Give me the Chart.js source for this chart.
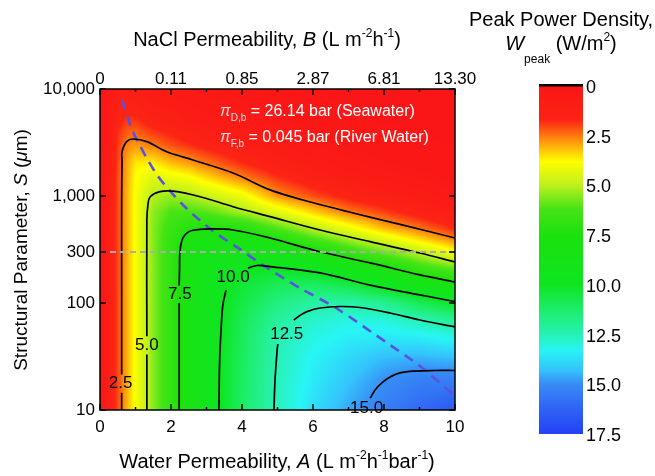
<!DOCTYPE html>
<html><head><meta charset="utf-8">
<script src="https://cdn.jsdelivr.net/npm/chart.js@4.4.1/dist/chart.umd.min.js"></script>
<style>html,body{margin:0;padding:0;background:#fff;}#wrap{width:655px;height:476px;}</style>
</head><body><div id="wrap"><canvas id="c" width="655" height="476"></canvas></div>
<script>
// ---------- data ----------
const waterPermA = [0, 0.25, 0.5, 0.75, 1, 1.5, 2, 2.5, 3, 4, 5, 6, 7, 8, 9, 10];
const structS = [10, 20, 30, 50, 70, 100, 150, 200, 300, 400, 500, 700, 1000, 1500, 2000, 3000, 5000, 10000];
// peak power density W (W/m2), one row per S value, one column per A value
const wPeak = [
  [0, 1.0, 2.05, 3.0, 3.9, 5.55, 6.9, 8.1, 9.25, 11.1, 12.6, 13.75, 14.65, 15.4, 16.05, 16.6],
  [0, 1.0, 2.05, 3.0, 3.9, 5.55, 6.9, 8.1, 9.25, 11.05, 12.55, 13.5, 14.2, 14.9, 15.3, 15.3],
  [0, 1.0, 2.05, 3.0, 3.9, 5.55, 6.9, 8.1, 9.25, 11.0, 12.5, 13.35, 13.9, 14.4, 14.55, 14.4],
  [0, 1.0, 2.05, 3.0, 3.9, 5.55, 6.9, 8.1, 9.25, 10.9, 12.4, 13.05, 13.4, 13.45, 13.35, 13.0],
  [0, 1.0, 2.05, 3.0, 3.9, 5.55, 6.9, 8.1, 9.25, 10.8, 12.1, 12.75, 13.05, 13.0, 12.45, 11.9],
  [0, 1.0, 2.05, 3.0, 3.9, 5.55, 6.9, 8.1, 9.25, 10.6, 11.6, 12.25, 12.3, 11.9, 10.85, 10.1],
  [0, 1.0, 2.05, 3.0, 3.9, 5.55, 6.9, 8.1, 9.2, 10.3, 10.9, 11.0, 10.6, 9.6, 8.8, 7.8],
  [0, 1.0, 2.05, 3.0, 3.9, 5.55, 6.9, 8.1, 9.1, 9.9, 10.2, 9.9, 9.0, 8.1, 6.9, 6.2],
  [0, 1.0, 2.05, 3.0, 3.9, 5.55, 6.9, 7.95, 8.7, 8.8, 8.7, 7.85, 6.7, 5.8, 4.9, 3.9],
  [0, 1.0, 2.05, 3.0, 3.9, 5.55, 6.8, 7.7, 8.1, 8.0, 7.35, 6.2, 5.25, 4.3, 3.4, 2.5],
  [0, 1.0, 2.05, 3.0, 3.9, 5.55, 6.6, 7.3, 7.4, 7.2, 6.1, 5.0, 4.1, 3.1, 2.45, 1.7],
  [0, 1.0, 2.05, 3.0, 3.9, 5.5, 6.2, 6.3, 6.1, 5.3, 4.4, 3.4, 2.55, 2.0, 1.4, 0.9],
  [0, 1.0, 2.05, 3.0, 3.9, 5.1, 5.4, 5.2, 4.8, 4.1, 2.75, 2.1, 1.5, 1.1, 0.8, 0.5],
  [0, 0.95, 2.05, 2.95, 3.8, 4.4, 4.1, 3.9, 3.4, 2.55, 1.8, 1.2, 0.8, 0.55, 0.4, 0.2],
  [0, 0.9, 2.0, 2.9, 3.6, 3.7, 3.2, 2.9, 2.5, 1.8, 1.2, 0.8, 0.5, 0.3, 0.2, 0.1],
  [0, 0.8, 1.9, 2.6, 2.8, 2.5, 2.1, 1.8, 1.5, 1.0, 0.7, 0.4, 0.25, 0.15, 0.1, 0.05],
  [0, 0.6, 1.6, 1.9, 1.9, 1.4, 1.2, 0.9, 0.8, 0.5, 0.35, 0.2, 0.1, 0.05, 0.03, 0],
  [0, 0.35, 1.0, 1.0, 0.9, 0.6, 0.5, 0.4, 0.3, 0.2, 0.1, 0.05, 0, 0, 0, 0]
];
// contour lines [A, S]; null S = break for the label
const contour2_5 = [[0.61,10],[0.61,14.5],[0.61,null],[0.61,21.5],[0.61,107],[0.61,918],[0.62,2170],[0.62,2590],[0.75,3220],[0.94,3410],[1.32,3220],[1.88,2590],[2.62,2170],[3.75,1640],[4.79,1140],[5.72,918],[7.13,694],[8.54,535],[10,405]];
const contour5_0 = [[1.32,10],[1.32,33],[1.32,null],[1.32,49],[1.32,600],[1.35,824],[1.41,979],[1.69,1097],[2.06,1110],[2.82,985],[3.75,794],[4.79,641],[6.2,481],[7.61,374],[9.01,293],[10,242]];
const contour7_5 = [[2.23,10],[2.23,100],[2.23,null],[2.23,146],[2.24,203],[2.25,300],[2.31,388],[2.42,442],[2.59,476],[3.1,492],[3.75,481],[4.79,405],[6.2,301],[7.61,237],[9.01,183],[10,157]];
const contour10_0 = [[3.35,10],[3.37,29.3],[3.41,56],[3.46,95.7],[3.55,132],[3.55,null],[4.17,212],[4.42,224],[4.79,219],[6.2,191],[7.61,147],[9.01,119],[10,103]];
const contour12_5 = [[4.9,10],[4.93,19],[4.99,36.4],[5.01,41.4],[5.01,null],[5.46,69.3],[5.63,76.4],[5.83,83],[6.2,89.8],[6.76,92.7],[7.32,90.8],[8.17,80.7],[9.01,69.3],[10,59.7]];
const contour15_0 = [[7.61,12.9],[7.75,15.4],[7.94,17.9],[8.17,20.3],[8.45,22.2],[8.87,23.1],[9.44,23.4],[10,23.4]];
const optimumLine = [[0.62,7890],[0.85,4610],[1.04,3340],[1.61,1570],[2.34,824],[3.18,471],[3.89,327],[4.59,226],[5.63,138],[6.65,89.8],[8.17,40.5],[9.01,25.8],[10,13.5]];
const referenceS = [[0,300],[10,300]];
const contourLabels = ['2.5','5.0','7.5','10.0','12.5','15.0'];
const contourLabelA = [0.58, 1.32, 2.25, 3.75, 5.26, 7.51];
const contourLabelS = [17.9, 40.5, 121, 175, 51.3, 10.4];
const aTicks = [0, 2, 4, 6, 8, 10];
const aMinorTicks = [1, 3, 5, 7, 9];
const bTickLabels = ['0', '0.11', '0.85', '2.87', '6.81', '13.30'];
const sTicks = [10, 100, 300, 1000, 10000];
const cbTicks = [0, 2.5, 5, 7.5, 10, 12.5, 15, 17.5];
const cbMax = 17.5;

// ---------- style ----------
const FAM = '"Liberation Sans", Arial, sans-serif';
const cmapStops = [
  [0,[250,22,22]],[1.7,[252,36,20]],[2.5,[255,120,16]],[3.2,[255,195,8]],[3.8,[255,255,0]],
  [5.0,[190,240,30]],[6.2,[70,228,22]],[7.5,[28,226,14]],[10,[14,230,34]],[11.3,[30,238,110]],
  [12.5,[40,242,180]],[13.3,[40,245,245]],[14.3,[52,195,252]],[15,[56,140,245]],[16.2,[48,100,245]],[17.5,[36,66,246]]
];
function cmap(v){
  if (v <= cmapStops[0][0]) return cmapStops[0][1];
  for (let k=1;k<cmapStops.length;k++){
    if (v <= cmapStops[k][0]){
      const [v0,c0]=cmapStops[k-1],[v1,c1]=cmapStops[k];
      const t=(v-v0)/(v1-v0);
      return [0,1,2].map(i=>c0[i]+(c1[i]-c0[i])*t);
    }
  }
  return cmapStops[cmapStops.length-1][1];
}
function findCell(arr, v){
  let i=0; while(i<arr.length-2 && v>arr[i+1]) i++;
  let t=(v-arr[i])/(arr[i+1]-arr[i]); t=Math.max(0,Math.min(1,t));
  return [i,t];
}
function drawRich(ctx, segs, x, y, size, align, color){
  const fontFor = st => st==='i' ? `italic ${size}px ${FAM}` : (st==='sup'||st==='sub') ? `${Math.round(size*0.62)}px ${FAM}` : `${size}px ${FAM}`;
  let total=0;
  segs.forEach(s=>{ctx.font=fontFor(s[1]); total+=ctx.measureText(s[0]).width;});
  let cx = align==='center' ? x-total/2 : x;
  ctx.textAlign='left'; ctx.textBaseline='alphabetic';
  segs.forEach(s=>{
    ctx.font=fontFor(s[1]); ctx.fillStyle=s[2]||color;
    let dy = s[1]==='sup' ? -size*0.45 : s[1]==='sub' ? size*0.3 : 0;
    if (s[3]!==undefined) dy=s[3];
    ctx.fillText(s[0], cx, y+dy);
    cx += ctx.measureText(s[0]).width;
  });
}

const heatPlugin = {
  id:'heat',
  beforeDatasetsDraw(chart){
    const {ctx, chartArea:ca, scales:{x,y}} = chart;
    const w=Math.round(ca.right-ca.left), h=Math.round(ca.bottom-ca.top);
    const off=document.createElement('canvas'); off.width=w; off.height=h;
    const octx=off.getContext('2d'); const img=octx.createImageData(w,h);
    const logS=structS.map(Math.log10);
    for(let py=0;py<h;py++){
      const ls=Math.log10(y.getValueForPixel(ca.top+py+0.5));
      const [j,ty]=findCell(logS,ls);
      for(let px=0;px<w;px++){
        const A=x.getValueForPixel(ca.left+px+0.5);
        const [i,tx]=findCell(waterPermA,A);
        const v=(1-ty)*((1-tx)*wPeak[j][i]+tx*wPeak[j][i+1])+ty*((1-tx)*wPeak[j+1][i]+tx*wPeak[j+1][i+1]);
        const c=cmap(v); const o=(py*w+px)*4;
        img.data[o]=c[0]; img.data[o+1]=c[1]; img.data[o+2]=c[2]; img.data[o+3]=255;
      }
    }
    octx.putImageData(img,0,0);
    ctx.drawImage(off, ca.left, ca.top, w, h);
  }
};

const overlayPlugin = {
  id:'overlay',
  afterDatasetsDraw(chart){
    const {ctx, scales:{x,y}} = chart;
    ctx.save();
    ctx.font=`17px ${FAM}`; ctx.fillStyle='#000'; ctx.textAlign='center'; ctx.textBaseline='middle';
    contourLabels.forEach((t,k)=>ctx.fillText(t, x.getPixelForValue(contourLabelA[k]), y.getPixelForValue(contourLabelS[k])));
    drawRich(ctx, [['π','i','#ffd6de'],['D,b','sub','#ffd6de'],[' = 26.14 bar (Seawater)','n']], 220, 116, 16, 'left', '#fff');
    drawRich(ctx, [['π','i','#ffd6de'],['F,b','sub','#ffd6de'],[' = 0.045 bar (River Water)','n']], 220, 142, 16, 'left', '#fff');
    ctx.restore();
  },
  afterDraw(chart){
    const {ctx, chartArea:ca, scales:{x,y}} = chart;
    ctx.save();
    ctx.strokeStyle='#000'; ctx.lineWidth=1.5;
    ctx.strokeRect(ca.left, ca.top, ca.right-ca.left, ca.bottom-ca.top);
    ctx.beginPath();
    aTicks.forEach(a=>{const p=x.getPixelForValue(a); ctx.moveTo(p,ca.bottom); ctx.lineTo(p,ca.bottom-6); ctx.moveTo(p,ca.top); ctx.lineTo(p,ca.top+6);});
    aMinorTicks.forEach(a=>{const p=x.getPixelForValue(a); ctx.moveTo(p,ca.bottom); ctx.lineTo(p,ca.bottom-3); ctx.moveTo(p,ca.top); ctx.lineTo(p,ca.top+3);});
    sTicks.forEach(s=>{const p=y.getPixelForValue(s); ctx.moveTo(ca.left,p); ctx.lineTo(ca.left+6,p); ctx.moveTo(ca.right,p); ctx.lineTo(ca.right-6,p);});
    ctx.stroke();
    // titles
    drawRich(ctx, [['NaCl Permeability, ','n'],['B','i'],[' (L m','n'],['-2','sup'],['h','n'],['-1','sup'],[')','n']], 267, 46, 20, 'center', '#000');
    drawRich(ctx, [['Water Permeability, ','n'],['A','i'],[' (L m','n'],['-2','sup'],['h','n'],['-1','sup'],['bar','n'],['-1','sup'],[')','n']], 277, 468, 20, 'center', '#000');
    ctx.save(); ctx.translate(27, 250); ctx.rotate(-Math.PI/2);
    drawRich(ctx, [['Structural Parameter, ','n'],['S','i'],[' (','n'],['μ','i'],['m)','n']], 0, 0, 19, 'center', '#000');
    ctx.restore();
    // colour bar
    const cbL=539, cbR=583, cbT=86, cbB=434;
    for(let py=cbT; py<cbB; py++){
      const v=(py+0.5-cbT)/(cbB-cbT)*cbMax; const c=cmap(v);
      ctx.fillStyle=`rgb(${c[0]|0},${c[1]|0},${c[2]|0})`; ctx.fillRect(cbL,py,cbR-cbL,1);
    }
    ctx.fillStyle='#000'; ctx.fillRect(cbL,84,cbR-cbL,2.5);
    ctx.font=`18px ${FAM}`; ctx.textAlign='left'; ctx.textBaseline='middle'; ctx.fillStyle='#000';
    cbTicks.forEach(v=>ctx.fillText(v===0?'0':v.toFixed(1), 586, cbT+v/cbMax*(cbB-cbT)+2));
    drawRich(ctx, [['Peak Power Density,','n']], 561, 26, 20, 'center', '#000');
    drawRich(ctx, [['W','i'],['peak','sub','#000',13],[' (W/m','n'],['2','sup'],[')','n']], 561, 50, 20, 'center', '#000');
    ctx.restore();
  }
};

const toXY = arr => arr.map(([a,s])=>({x:a,y:s}));
const contourStyle = {borderColor:'#000', borderWidth:1.7, pointRadius:0, tension:0.35, fill:false, spanGaps:false};
const tickFont = {family:FAM, size:17};

new Chart(document.getElementById('c'), {
  type:'line',
  data:{datasets:[
    {data:toXY(referenceS), borderColor:'#aaaaaa', borderWidth:2, borderDash:[6,4], pointRadius:0, tension:0},
    Object.assign({data:toXY(contour2_5)}, contourStyle),
    Object.assign({data:toXY(contour5_0)}, contourStyle),
    Object.assign({data:toXY(contour7_5)}, contourStyle),
    Object.assign({data:toXY(contour10_0)}, contourStyle),
    Object.assign({data:toXY(contour12_5)}, contourStyle),
    Object.assign({data:toXY(contour15_0)}, contourStyle),
    {data:toXY(optimumLine), borderColor:'#5a52dc', borderWidth:2.6, borderDash:[10,7], pointRadius:0, tension:0.3}
  ]},
  options:{
    responsive:false, animation:false, events:[],
    layout:{padding:{left:0,right:200,top:0,bottom:0}},
    plugins:{legend:{display:false}, tooltip:{enabled:false}, title:{display:false}},
    scales:{
      x:{type:'linear', position:'bottom', min:0, max:10,
        afterBuildTicks:s=>{s.ticks=aTicks.map(v=>({value:v}));},
        ticks:{font:tickFont, color:'#000', padding:7, maxRotation:0, autoSkip:false},
        grid:{display:false, drawTicks:false}, border:{display:false},
        afterFit:s=>{s.height=66;}},
      x2:{type:'linear', position:'top', min:0, max:10,
        afterBuildTicks:s=>{s.ticks=aTicks.map(v=>({value:v}));},
        ticks:{font:tickFont, color:'#000', padding:-1, maxRotation:0, autoSkip:false, callback:v=>bTickLabels[aTicks.indexOf(v)]},
        grid:{display:false, drawTicks:false}, border:{display:false},
        afterFit:s=>{s.height=89;}},
      y:{type:'logarithmic', position:'left', min:10, max:10000,
        afterBuildTicks:s=>{s.ticks=sTicks.map(v=>({value:v}));},
        ticks:{font:tickFont, color:'#000', padding:5, autoSkip:false, callback:v=>Number(v).toLocaleString('en-US')},
        grid:{display:false, drawTicks:false}, border:{display:false},
        afterFit:s=>{s.width=100;}}
    }
  },
  plugins:[heatPlugin, overlayPlugin]
});
</script></body></html>
